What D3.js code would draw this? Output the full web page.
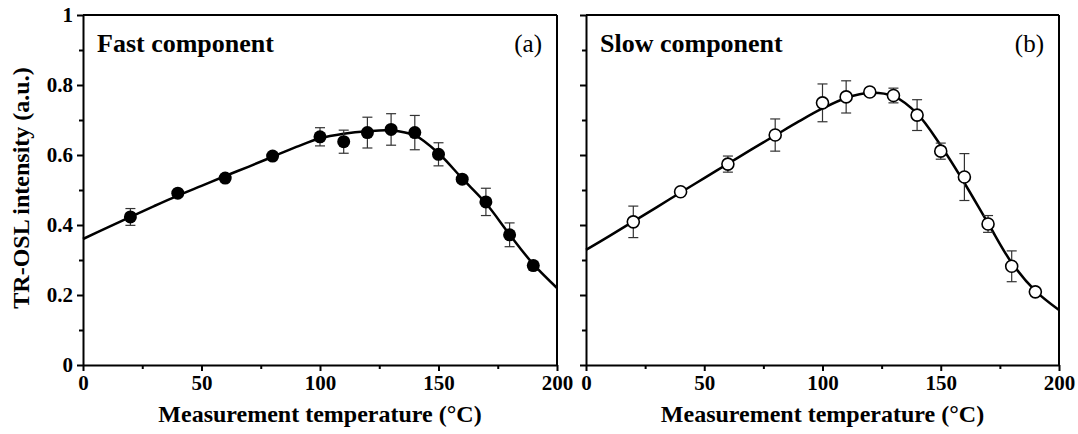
<!DOCTYPE html>
<html><head><meta charset="utf-8">
<script src="https://cdn.jsdelivr.net/npm/d3@7"></script>
<style>
html,body{margin:0;padding:0;background:#fff;}
text{font-family:"Liberation Serif","Times New Roman",serif;fill:#000;}
</style></head>
<body><svg id="c" width="1078" height="434"></svg>
<script>
// measurement temperatures (°C)
const temps = [20,40,60,80,100,110,120,130,140,150,160,170,180,190];
// Fast component (panel a)
const fastVals = [0.423,0.491,0.534,0.597,0.652,0.638,0.664,0.673,0.664,0.602,0.531,0.466,0.372,0.284];
const fastErr  = [0.024,0.008,0.008,0.008,0.026,0.033,0.044,0.045,0.049,0.033,0.010,0.039,0.034,0.012];
// Slow component (panel b)
const slowVals = [0.409,0.495,0.574,0.657,0.749,0.766,0.780,0.770,0.714,0.611,0.537,0.403,0.282,0.209];
const slowErr  = [0.045,0.008,0.023,0.046,0.054,0.046,0.010,0.021,0.044,0.023,0.067,0.024,0.044,0.008];
// fitted curves
const fitT    = [0,10,20,30,40,50,60,70,80,90,100,110,120,130,140,150,160,170,180,190,200];
const fitFast = [0.360,0.392,0.423,0.454,0.484,0.512,0.540,0.567,0.595,0.623,0.648,0.661,0.668,0.670,0.656,0.605,0.533,0.462,0.373,0.288,0.220];
const fitSlow = [0.329,0.369,0.410,0.451,0.493,0.534,0.575,0.616,0.656,0.696,0.733,0.763,0.778,0.768,0.718,0.627,0.520,0.405,0.292,0.212,0.157];
// ticks
const xTicks = [0,50,100,150,200];
const xMinor = [25,75,125,175];
const yTicks = [0,0.2,0.4,0.6,0.8,1];
const yMinor = [0.1,0.3,0.5,0.7,0.9];
const yTickLabels = ["0","0.2","0.4","0.6","0.8","1"];

const svg = d3.select("#c");
const plotTop = 15, plotBottom = 365;
const y = d3.scaleLinear().domain([0,1]).range([plotBottom, plotTop]);

const panels = [
  {x0:83, x1:557, vals:fastVals, err:fastErr, fit:fitFast, filled:true, title:"Fast component", tag:"(a)", yLabels:true},
  {x0:586, x1:1059, vals:slowVals, err:slowErr, fit:fitSlow, filled:false, title:"Slow component", tag:"(b)", yLabels:false}
];

panels.forEach(p => {
  const x = d3.scaleLinear().domain([0,200]).range([p.x0, p.x1]);
  const g = svg.append("g");

  // frame top & right
  g.append("line").attr("x1",p.x0).attr("x2",p.x1).attr("y1",plotTop).attr("y2",plotTop).attr("stroke","#000").attr("stroke-width",2);
  g.append("line").attr("x1",p.x1).attr("x2",p.x1).attr("y1",plotTop).attr("y2",plotBottom).attr("stroke","#000").attr("stroke-width",2);

  // axes
  const ax = g.append("g").attr("transform",`translate(0,${plotBottom})`)
    .call(d3.axisBottom(x).tickValues(xTicks).tickSize(6).tickSizeOuter(0).tickPadding(4).tickFormat(d3.format("d")));
  g.append("g").attr("transform",`translate(0,${plotBottom})`)
    .call(d3.axisBottom(x).tickValues(xMinor).tickSize(4).tickSizeOuter(0).tickFormat(""))
    .select(".domain").remove();
  const ay = g.append("g").attr("transform",`translate(${p.x0},0)`)
    .call(d3.axisLeft(y).tickValues(yTicks).tickSize(6).tickSizeOuter(0).tickPadding(4).tickFormat((d,i)=>yTickLabels[i]));
  g.append("g").attr("transform",`translate(${p.x0},0)`)
    .call(d3.axisLeft(y).tickValues(yMinor).tickSize(4).tickSizeOuter(0).tickFormat(""))
    .select(".domain").remove();
  g.selectAll(".domain").attr("stroke","#000").attr("stroke-width",2);
  g.selectAll(".tick line").attr("stroke","#000").attr("stroke-width",2);
  ax.selectAll("text").attr("font-size",21).attr("font-weight","bold").attr("font-family","Liberation Serif");
  ay.selectAll("text").attr("font-size",21).attr("font-weight","bold").attr("font-family","Liberation Serif");
  if(!p.yLabels) ay.selectAll("text").remove();

  // fit curve
  const line = d3.line().x((d,i)=>x(fitT[i])).y(d=>y(d)).curve(d3.curveCatmullRom.alpha(0.5));
  g.append("path").attr("d", line(p.fit)).attr("fill","none").attr("stroke","#000").attr("stroke-width",2.5);

  // error bars
  const eb = g.append("g").attr("stroke","#333").attr("stroke-width",1.2);
  temps.forEach((t,i) => {
    const cx = x(t), yt = y(p.vals[i]+p.err[i]), yb = y(p.vals[i]-p.err[i]);
    eb.append("line").attr("x1",cx).attr("x2",cx).attr("y1",yt).attr("y2",yb);
    eb.append("line").attr("x1",cx-5).attr("x2",cx+5).attr("y1",yt).attr("y2",yt);
    eb.append("line").attr("x1",cx-5).attr("x2",cx+5).attr("y1",yb).attr("y2",yb);
  });

  // points
  g.selectAll("circle.pt").data(p.vals).enter().append("circle")
    .attr("cx",(d,i)=>x(temps[i])).attr("cy",d=>y(d))
    .attr("r", p.filled ? 6.5 : 6)
    .attr("fill", p.filled ? "#000" : "#fff")
    .attr("stroke","#000").attr("stroke-width", p.filled ? 0 : 1.6);

  // titles
  g.append("text").attr("x",p.x0+14).attr("y",52).attr("font-size",26).attr("font-weight","bold").text(p.title);
  g.append("text").attr("x",p.x1-15).attr("y",52).attr("font-size",25).attr("text-anchor","end").text(p.tag);
  g.append("text").attr("x",(p.x0+p.x1)/2).attr("y",422).attr("font-size",24).attr("font-weight","bold")
    .attr("text-anchor","middle").text("Measurement temperature (\u00B0C)");
});

// y title
svg.append("text").attr("transform","translate(29,188) rotate(-90)").attr("text-anchor","middle")
  .attr("font-size",24).attr("font-weight","bold").text("TR-OSL intensity (a.u.)");
</script>
</body></html>
